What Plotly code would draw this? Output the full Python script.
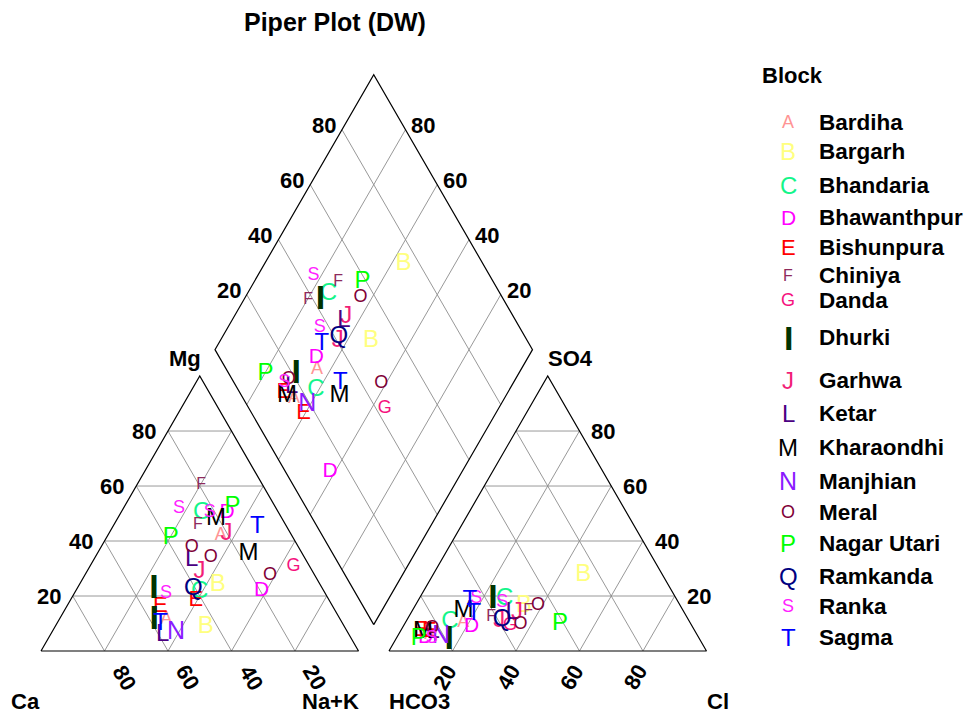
import math
import plotly.graph_objects as go

# ---------------- data ----------------
blocks = ["Bardiha", "Bargarh", "Bhandaria", "Bhawanthpur", "Bishunpura", "Chiniya",
          "Danda", "Dhurki", "Garhwa", "Ketar", "Kharaondhi", "Manjhian", "Meral",
          "Nagar Utari", "Ramkanda", "Ranka", "Sagma"]
block_symbols = ["A", "B", "C", "D", "E", "F", "G", "I", "J", "L", "M", "N", "O",
                 "P", "Q", "S", "T"]
block_colors = ["#FF9494", "#FFFF80", "#14F58A", "#FF00FF", "#FF0000", "#8E2A5C",
                "#F5127E", "#003300", "#F21F78", "#4B0082", "#000000", "#8A1AFF",
                "#7F0037", "#00FF00", "#000080", "#FF22FF", "#0000FF"]
block_sizes = [18, 24, 24, 21, 22, 16, 18, 34, 24, 24, 24, 25, 18, 24, 24, 18, 24]

# one entry per sample (milli-equivalent percentages)
sample_block = ["Bardiha", "Bardiha", "Bargarh", "Bargarh", "Bhandaria", "Bhandaria",
                "Bhawanthpur", "Bhawanthpur", "Bishunpura", "Bishunpura", "Chiniya", "Chiniya",
                "Danda", "Dhurki", "Dhurki", "Garhwa", "Garhwa", "Ketar", "Ketar",
                "Kharaondhi", "Kharaondhi", "Manjhian", "Meral", "Meral", "Meral",
                "Nagar Utari", "Nagar Utari", "Ramkanda", "Ranka", "Ranka", "Ranka",
                "Sagma", "Sagma"]
ca = [22.4, 54.9, 32.3, 43.7, 24.3, 39.3, 16.2, 19.6, 42.0, 54.4, 19.4, 27.7,
      5.1, 53.2, 58.8, 20.3, 35.7, 36.0, 58.8, 20.9, 17.0, 54.1, 33.7, 29.5, 14.2,
      13.4, 38.5, 40.8, 30.5, 21.6, 50.2, 9.3, 57.3]
mg = [41.9, 11.3, 24.0, 8.8, 50.2, 21.5, 50.3, 21.9, 18.4, 16.1, 60.4, 45.8,
      30.7, 22.5, 11.1, 42.5, 28.8, 33.1, 5.8, 48.0, 35.3, 6.7, 37.7, 34.1, 27.3,
      52.5, 41.2, 22.5, 52.0, 50.5, 20.9, 45.2, 10.0]
nak = [35.7, 33.8, 43.7, 47.5, 25.5, 39.2, 33.5, 58.5, 39.6, 29.5, 20.2, 26.5,
       64.2, 24.3, 30.1, 37.2, 35.5, 30.9, 35.4, 31.1, 47.7, 39.2, 28.6, 36.4, 58.5,
       34.1, 20.3, 36.7, 17.5, 27.9, 28.9, 45.5, 32.7]
hco3 = [71.4, 84.0, 25.0, 49.2, 54.1, 75.6, 69.6, 86.0, 83.8, 86.2, 61.6, 49.0,
        57.2, 57.8, 79.0, 59.8, 52.8, 82.6, 54.2, 85.8, 69.3, 81.0, 82.2, 44.7, 53.8,
        41.2, 88.4, 58.7, 55.5, 84.2, 62.9, 66.5, 65.4]
so4 = [10.4, 6.0, 27.6, 16.5, 18.9, 10.4, 8.8, 5.0, 7.0, 7.6, 12.4, 14.4,
       9.3, 18.9, 4.0, 11.0, 13.7, 7.0, 14.0, 7.0, 14.5, 5.2, 8.3, 16.7, 9.6,
       9.8, 4.4, 11.3, 17.6, 4.6, 19.2, 13.5, 18.2]
cl = [18.2, 10.0, 47.4, 34.3, 27.0, 14.0, 21.6, 9.0, 9.2, 6.2, 26.0, 36.6,
      33.5, 23.3, 17.0, 29.2, 33.5, 10.4, 31.8, 7.2, 16.2, 13.8, 9.5, 38.6, 36.6,
      49.0, 7.2, 30.0, 26.9, 11.2, 17.9, 20.0, 16.4]

tick_values = [20, 40, 60, 80]

# ---------------- geometry ----------------
H = math.sqrt(3) / 2
GAP = 0.096          # gap between the two triangles (in side lengths)
PX = 317.5           # pixels per side length
X0, Y0 = 41, 651     # pixel position of the Ca corner
W, HT = 969, 715


def cation_xy(c, m, n):
    t = c + m + n
    m, n = m / t, n / t
    return n + 0.5 * m, H * m


def anion_xy(b, s, c):
    t = b + s + c
    s, c = s / t, c / t
    return 1 + GAP + c + 0.5 * s, H * s


def diamond_xy(cm, sc):
    return 1 + 0.5 * GAP + 0.5 * (sc - cm), H * (GAP + cm + sc)


def px_to_data(dx, dy):
    return dx / PX, -dy / PX


FONT = "Liberation Sans, Arial, sans-serif"
fig = go.Figure()

# ---------------- grid lines ----------------
gx, gy = [], []


def seg(p, q):
    gx.extend([p[0], q[0], None])
    gy.extend([p[1], q[1], None])


for v in tick_values:
    f = v / 100
    for off in (0, 1 + GAP):
        seg((off + 0.5 * f, H * f), (off + 1 - 0.5 * f, H * f))
        seg((off + 1 - f, 0), (off + 0.5 * (1 - f), H * (1 - f)))
        seg((off + f, 0), (off + f + 0.5 * (1 - f), H * (1 - f)))
    seg(diamond_xy(0, f), diamond_xy(1, f))
    seg(diamond_xy(f, 0), diamond_xy(f, 1))

fig.add_trace(go.Scatter(x=gx, y=gy, mode="lines", hoverinfo="skip", showlegend=False,
                         line=dict(color="#8c8c8c", width=0.9)))

# ---------------- outlines ----------------
ox, oy = [], []
for off in (0, 1 + GAP):
    ox.extend([off, off + 1, off + 0.5, off, None])
    oy.extend([0, 0, H, 0, None])
dpts = [diamond_xy(0, 0), diamond_xy(1, 0), diamond_xy(1, 1), diamond_xy(0, 1), diamond_xy(0, 0)]
ox.extend([p[0] for p in dpts])
oy.extend([p[1] for p in dpts])
fig.add_trace(go.Scatter(x=ox, y=oy, mode="lines", hoverinfo="skip", showlegend=False,
                         line=dict(color="black", width=1.2)))

# ---------------- samples ----------------
for name, sym, col, size in zip(blocks, block_symbols, block_colors, block_sizes):
    xs, ys = [], []
    for i, b in enumerate(sample_block):
        if b != name:
            continue
        p = cation_xy(ca[i], mg[i], nak[i])
        q = anion_xy(hco3[i], so4[i], cl[i])
        tc = ca[i] + mg[i] + nak[i]
        ta = hco3[i] + so4[i] + cl[i]
        r = diamond_xy((ca[i] + mg[i]) / tc, (so4[i] + cl[i]) / ta)
        for pt in (p, q, r):
            xs.append(pt[0])
            ys.append(pt[1])
    weight = "bold" if sym == "I" else "normal"
    fig.add_trace(go.Scatter(x=xs, y=ys, mode="text", text=[sym] * len(xs), name=name,
                             textposition="middle center", showlegend=False,
                             textfont=dict(family=FONT, size=size, color=col, weight=weight)))

# ---------------- tick labels ----------------
ann = []


def label(x, y, text, size=22, angle=0, xanchor="center"):
    ann.append(dict(x=x, y=y, xref="x", yref="y", text="<b>%s</b>" % text, showarrow=False,
                    textangle=angle, xanchor=xanchor, yanchor="middle",
                    font=dict(family=FONT, size=size, color="black")))


for v in tick_values:
    f = v / 100
    # Mg on the left edge of the cation triangle
    dx, dy = px_to_data(-24, 0)
    label(0.5 * f + dx, H * f + dy, v)
    # Ca along the base of the cation triangle
    dx, dy = px_to_data(20, 26)
    label(1 - f + dx, dy, v, angle=60)
    # Cl along the base of the anion triangle
    dx, dy = px_to_data(-8, 26)
    label(1 + GAP + f + dx, dy, v, angle=-60)
    # SO4 on the right edge of the anion triangle
    dx, dy = px_to_data(24, 0)
    label(1 + GAP + 1 - 0.5 * f + dx, H * f + dy, v)
    # SO4+Cl on the upper-left edge of the diamond
    px_, py_ = diamond_xy(1, f)
    dx, dy = px_to_data(-18, -4)
    label(px_ + dx, py_ + dy, v)
    # Ca+Mg on the upper-right edge of the diamond
    px_, py_ = diamond_xy(f, 1)
    dx, dy = px_to_data(18, -4)
    label(px_ + dx, py_ + dy, v)

# corner labels
corner = [((0, 0), (-16, 50), "Ca"), ((1, 0), (-28, 50), "Na+K"),
          ((0.5, H), (-15, -18), "Mg"), ((1 + GAP, 0), (31, 50), "HCO3"),
          ((2 + GAP, 0), (12, 50), "Cl"), ((1.5 + GAP, H), (23, -18), "SO4")]
for (vx, vy), (ddx, ddy), txt in corner:
    dx, dy = px_to_data(ddx, ddy)
    label(vx + dx, vy + dy, txt, size=22)

# title
ann.append(dict(x=335 / W, y=1 - 22 / HT, xref="paper", yref="paper", showarrow=False,
                text="<b>Piper Plot (DW)</b>", xanchor="center", yanchor="middle",
                font=dict(family=FONT, size=25, color="black")))

# ---------------- legend ----------------
ann.append(dict(x=760 / W, y=1 - 75 / HT, xref="paper", yref="paper", showarrow=False,
                text="<b>Block</b>", xanchor="left", yanchor="middle",
                font=dict(family=FONT, size=22, color="black")))
legend_rows = [122, 152, 185, 217, 247, 275, 300, 338, 380, 413, 447, 481, 512, 543, 576, 606, 637]
for name, sym, col, size, ry in zip(blocks, block_symbols, block_colors, block_sizes, legend_rows):
    sym_txt = "<b>%s</b>" % sym if sym == "I" else sym
    ann.append(dict(x=788 / W, y=1 - ry / HT, xref="paper", yref="paper", showarrow=False,
                    text=sym_txt, xanchor="center", yanchor="middle",
                    font=dict(family=FONT, size=size, color=col)))
    ann.append(dict(x=817 / W, y=1 - ry / HT, xref="paper", yref="paper", showarrow=False,
                    text="<b>%s</b>" % name, xanchor="left", yanchor="middle",
                    font=dict(family=FONT, size=22.5, color="black")))

fig.update_layout(
    width=W, height=HT, autosize=False,
    margin=dict(l=0, r=0, t=0, b=0, pad=0),
    paper_bgcolor="white", plot_bgcolor="white",
    xaxis=dict(visible=False, range=[-X0 / PX, (W - X0) / PX], fixedrange=True),
    yaxis=dict(visible=False, range=[-(HT - Y0) / PX, Y0 / PX], fixedrange=True),
    annotations=ann,
)

fig.write_html("out.html")
